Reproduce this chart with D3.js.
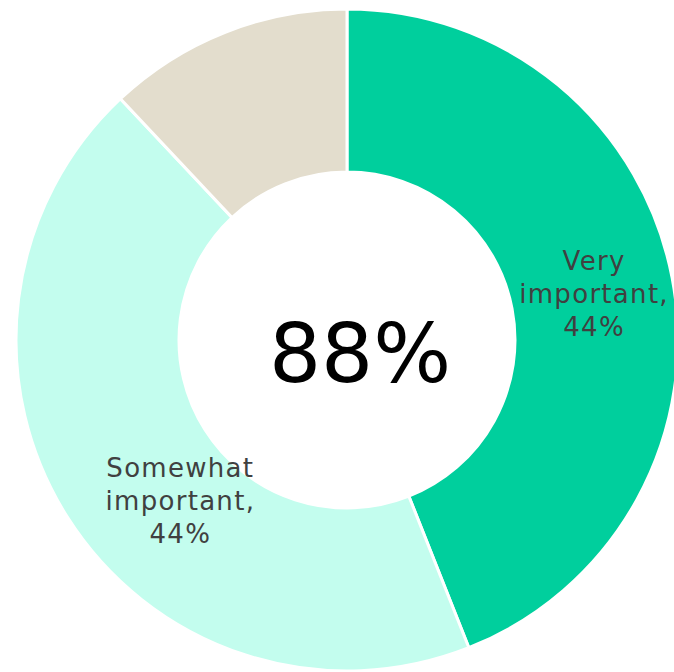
<!DOCTYPE html>
<html>
<head>
<meta charset="utf-8">
<script src="https://cdn.jsdelivr.net/npm/d3@7"></script>
<style>
  body { margin: 0; background: #fff; }
  svg text { font-family: "DejaVu Sans", sans-serif; }
</style>
</head>
<body>
<div id="chart"></div>
<script>
// data
var categories = ["Very important", "Somewhat important", "Other"];
var values = [44, 44, 12];
var showLabel = [true, true, false];
var centerText = "88%";

var colors = ["#00CF9D", "#C3FDEE", "#E3DDCD"];

let width = 674, height = 672;
let cx = 347, cy = 340;
let outerR = 331, innerR = 168;

let svg = d3.select('#chart')
    .append('svg')
    .attr('width', width)
    .attr('height', height);

let g = svg.append('g')
    .attr('transform', 'translate(' + cx + ',' + cy + ')');

let pie = d3.pie()
    .sort(null)
    .value((d) => d.value);

let arc = d3.arc()
    .innerRadius(innerR)
    .outerRadius(outerR);

let data = categories.map((c, i) => ({ name: c, value: values[i], i: i }));
let arcs = pie(data);

g.selectAll('path.slice')
    .data(arcs)
    .enter().append('path')
        .attr('class', 'slice')
        .attr('d', arc)
        .attr('fill', (d) => colors[d.data.i])
        .attr('stroke', '#fff')
        .attr('stroke-width', 3);

// label nudges so text sits like the original
let nudge = [[2, 2], [44, 28], [0, 0]];

let labels = g.selectAll('text.lbl')
    .data(arcs.filter((d) => showLabel[d.data.i]))
    .enter().append('text')
        .attr('class', 'lbl')
        .attr('text-anchor', 'middle')
        .attr('fill', '#404040')
        .style('font-size', '26px')
        .style('letter-spacing', '1.3px')
        .attr('transform', (d) => {
            let c = arc.centroid(d);
            let n = nudge[d.data.i];
            return 'translate(' + (c[0] + n[0]) + ',' + (c[1] + n[1]) + ')';
        });

labels.each(function (d) {
    let words = d.data.name.split(' ');
    let lines = [words[0], words.slice(1).join(' ') + ',', d.data.value + '%'];
    let t = d3.select(this);
    lines.forEach((ln, k) => {
        t.append('tspan')
            .attr('x', 0)
            .attr('y', (k - 1) * 33 + 8)
            .text(ln);
    });
});

g.append('text')
    .attr('text-anchor', 'middle')
    .attr('x', 13)
    .attr('y', 42)
    .attr('fill', '#000')
    .style('font-size', '82px')
    .text(centerText);
</script>
</body>
</html>
